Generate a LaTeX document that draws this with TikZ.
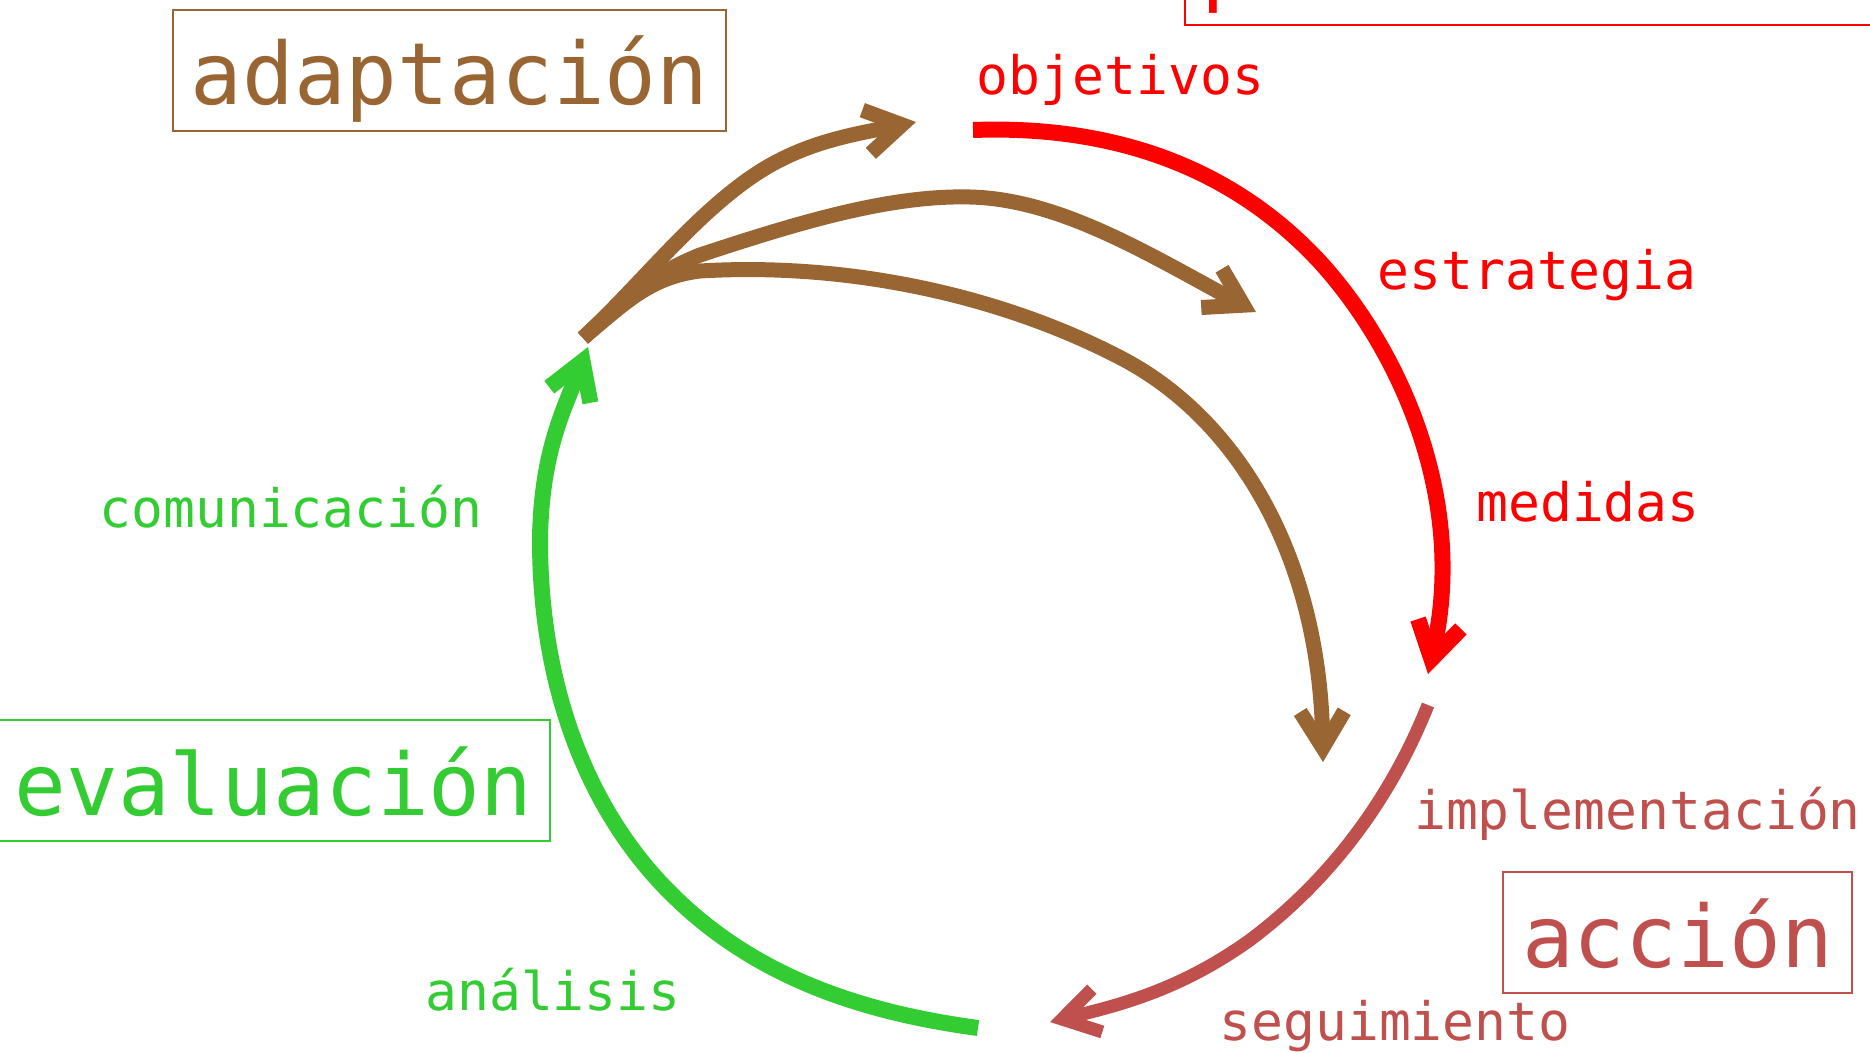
\documentclass[tikz,border=0pt]{standalone}
\usepackage{fontspec}
\newfontfamily\monofont{DejaVu Sans Mono}
\usetikzlibrary{arrows.meta}
\definecolor{brn}{HTML}{996633}
\definecolor{grn}{HTML}{33CC33}
\definecolor{rd}{HTML}{FF0000}
\definecolor{acc}{HTML}{C0504D}
\newcommand{\bigmono}{\monofont\fontsize{86}{96}\selectfont}
\newcommand{\smallmono}{\monofont\fontsize{53}{60}\selectfont}
\tikzset{
  bigbox/.style={draw, line width=2pt, inner sep=0pt, text height=69pt, text depth=0pt, font=\bigmono},
  lbl/.style={inner sep=0pt, anchor=base, font=\smallmono},
  flow/.style={line width=15pt, -{Straight Barb[length=36pt,width=44pt,sharp]}}
}
\begin{document}
\begin{tikzpicture}[x=1pt,y=-1pt]
\useasboundingbox (0,0) rectangle (1870,1052);
\clip (0,0) rectangle (1870,1052);
\fill[white] (0,0) rectangle (1870,1052);

% boxes
\node[bigbox, draw=brn, text=brn, minimum width=553pt, minimum height=121.5pt] (adap) at (449.5,70.25) {adaptación};
\node[bigbox, draw=grn, text=grn, minimum width=553pt, minimum height=121pt] (eval) at (273.5,780.5) {evaluación};
\node[bigbox, draw=acc, text=acc, minimum width=349pt, minimum height=121pt] (acc) at (1677.5,932.5) {acción};
\node[bigbox, draw=rd, text=rd, text height=61pt, minimum width=706pt, minimum height=121pt] (plan) at (1538,-35.5) {planificación};

% labels
\node[lbl, text=rd] (obj) at (1120.5,94) {objetivos};
\node[lbl, text=rd] (est) at (1537,289) {estrategia};
\node[lbl, text=rd] (med) at (1588,521) {medidas};
\node[lbl, text=acc] (imp) at (1637.5,829) {implementación};
\node[lbl, text=acc] (seg) at (1395,1040) {seguimiento};
\node[lbl, text=grn] (ana) at (553,1010) {análisis};
\node[lbl, text=grn] (com) at (291,527) {comunicación};

% connector end points
\coordinate (r0) at (973,130);
\coordinate (r1) at (1428,674);
\coordinate (a0) at (1428,705);
\coordinate (a1) at (1050,1022);
\coordinate (g0) at (978,1028);
\coordinate (g1) at (588,347);
\coordinate (b0) at (583,338);
\coordinate (bu) at (916,122);
\coordinate (bm) at (1256,312);
\coordinate (bl) at (1323,762);

% red (planificación)
\draw[flow, draw=rd, line width=16pt] (r0) .. controls (1110,125) and (1230,165) .. (1320,262)
  .. controls (1400,350) and (1468,500) .. (r1);
% acción
\draw[flow, draw=acc, line width=13pt] (a0) .. controls (1390,800) and (1330,880) .. (1250,940)
  .. controls (1180,990) and (1120,1005) .. (a1);
% evaluación
\draw[flow, draw=grn, line width=16pt] (g0) .. controls (860,1012) and (740,975) .. (650,871)
  .. controls (583,793) and (540,680) .. (540,540)
  .. controls (541,450) and (566,405) .. (g1);
% adaptación
\draw[flow, draw=brn] (b0) .. controls (640,285) and (690,220) .. (750,178)
  .. controls (800,143) and (850,135) .. (bu);
\draw[flow, draw=brn] (b0) .. controls (620,303) and (650,275) .. (700,255)
  .. controls (800,222) and (890,195) .. (970,197)
  .. controls (1060,199) and (1150,255) .. (bm);
\draw[flow, draw=brn] (b0) .. controls (625,303) and (650,277) .. (700,271)
  .. controls (850,262) and (1002,296) .. (1121,358)
  .. controls (1240,420) and (1320,560) .. (bl);
\end{tikzpicture}
\end{document}
